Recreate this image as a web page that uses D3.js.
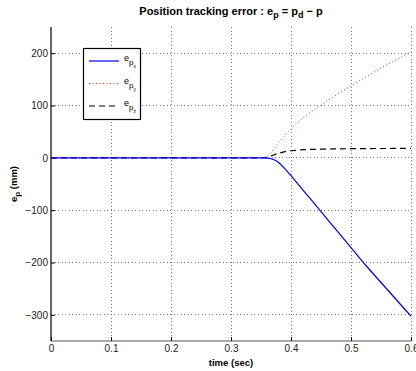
<!DOCTYPE html>
<html><head><meta charset="utf-8">
<script src="https://cdn.jsdelivr.net/npm/d3@7"></script>
<style>body{margin:0;background:#fff}svg{display:block}text{font-family:"Liberation Sans",Arial,Helvetica,sans-serif}</style>
</head><body>
<svg id="c" width="416" height="371"></svg>
<script>
const time = [0, 0.1, 0.2, 0.3, 0.35, 0.355, 0.36, 0.365, 0.37, 0.375, 0.38, 0.39, 0.40, 0.41, 0.42, 0.43, 0.44, 0.45, 0.46, 0.47, 0.48, 0.49, 0.50, 0.51, 0.52, 0.53, 0.54, 0.55, 0.56, 0.57, 0.58, 0.59, 0.60];
const epx = [0, 0, 0, 0, 0, -0.1, -0.5, -1.3, -2.8, -5.5, -9.5, -21, -34, -47.7, -61.5, -75.2, -89, -102.8, -116.5, -130.3, -144, -157.8, -171.6, -185.4, -199.2, -212.4, -225.3, -238.2, -251.1, -264, -276.9, -289.8, -302.6];
const epy = [0, 0, 0, 0, 0, 0.5, 3, 8, 15, 22, 30, 43, 55, 66, 76, 85, 93, 101, 109, 116, 123.5, 130.5, 137.5, 144.5, 151.5, 158, 165, 171.5, 178, 184, 190.5, 197, 203];
const epz = [0, 0, 0, 0, 0, 0.2, 1, 3, 5, 7, 9, 12, 13.5, 14.5, 15.5, 16, 16.3, 16.5, 16.8, 17, 17.2, 17.4, 17.5, 17.6, 17.7, 17.75, 17.8, 17.8, 17.85, 17.9, 17.9, 18, 18];
const xTicks = [0, 0.1, 0.2, 0.3, 0.4, 0.5, 0.6];
const yTicks = [-300, -200, -100, 0, 100, 200];
const seriesNames = ["x", "y", "z"];

const svg = d3.select("#c");
const L = 51, R = 411, T = 27, B = 341;
const x = d3.scaleLinear().domain([0, 0.6]).range([L, R]);
const y = d3.scaleLinear().domain([-350, 250]).range([B, T]);

// grid
const g = svg.append("g");
g.selectAll(".vg").data(xTicks.slice(1)).enter().append("line")
  .attr("x1", d => x(d)).attr("x2", d => x(d)).attr("y1", T).attr("y2", B)
  .attr("stroke", "#777").attr("stroke-width", 1).attr("stroke-dasharray", "1,2.5").attr("shape-rendering", "crispEdges");
g.selectAll(".hg").data(yTicks).enter().append("line")
  .attr("x1", L).attr("x2", R).attr("y1", d => y(d)).attr("y2", d => y(d))
  .attr("stroke", "#777").attr("stroke-width", 1).attr("stroke-dasharray", "1,2.5").attr("shape-rendering", "crispEdges");

// axes
const fmtMinus = s => s.replace("-", "\u2212");
const xa = svg.append("g").attr("transform", `translate(0,${B})`)
  .call(d3.axisBottom(x).tickValues(xTicks).tickSize(-4).tickPadding(4).tickFormat(d => d === 0 ? "0" : d3.format(".1f")(d)));
const ya = svg.append("g").attr("transform", `translate(${L},0)`)
  .call(d3.axisLeft(y).tickValues(yTicks).tickSize(-4).tickPadding(3).tickFormat(d => fmtMinus(String(d))));
[xa, ya].forEach(a => {
  a.select(".domain").attr("stroke", "#000").attr("stroke-width", 1.2);
  a.selectAll(".tick line").attr("stroke", "#000");
  a.selectAll("text").attr("font-size", 10).attr("fill", "#222").attr("font-family", "'Liberation Sans',Arial,sans-serif");
});
xa.select(".domain").attr("stroke", "#555");
xa.select(".domain").attr("d", `M${L},0H${R}`);
ya.select(".domain").attr("d", `M0,${B}V${T}`);

// lines
const line = vals => d3.line().x((d, i) => x(time[i])).y(d => y(d))(vals);
svg.append("path").attr("d", line(epz)).attr("fill", "none").attr("stroke", "#000").attr("stroke-width", 1.2).attr("stroke-dasharray", "6,4");
svg.append("path").attr("d", line(epy)).attr("fill", "none").attr("stroke", "#ff2020").attr("stroke-width", 1).attr("stroke-dasharray", "1,2.5");
svg.append("path").attr("d", line(epx)).attr("fill", "none").attr("stroke", "#0000ff").attr("stroke-width", 1.2);

// title
const title = svg.append("text").attr("x", (L + R) / 2).attr("y", 15).attr("text-anchor", "middle")
  .attr("font-size", 11).attr("font-weight", "bold");
title.append("tspan").text("Position tracking error : e");
title.append("tspan").attr("dy", 3).attr("font-size", 9).text("p");
title.append("tspan").attr("dy", -3).text(" = p");
title.append("tspan").attr("dy", 3).attr("font-size", 9).text("d");
title.append("tspan").attr("dy", -3).text(" \u2212 p");

// x label
svg.append("text").attr("x", (L + R) / 2).attr("y", 366).attr("text-anchor", "middle")
  .attr("font-size", 9.5).attr("font-weight", "bold").text("time (sec)");

// y label
const yl = svg.append("text").attr("transform", `translate(17,${(T + B) / 2}) rotate(-90)`).attr("text-anchor", "middle")
  .attr("font-size", 9.5).attr("font-weight", "bold");
yl.append("tspan").text("e");
yl.append("tspan").attr("dy", 3).attr("font-size", 8).text("p");
yl.append("tspan").attr("dy", -3).text(" (mm)");

// legend
const lg = svg.append("g");
lg.append("rect").attr("x", 83.5).attr("y", 48.5).attr("width", 57).attr("height", 71)
  .attr("fill", "#fff").attr("stroke", "#000").attr("stroke-width", 1.2);
const lstyles = [
  {stroke: "#0000ff", dash: null, w: 1.2},
  {stroke: "#ff2020", dash: "1,2.5", w: 1},
  {stroke: "#000", dash: "6,4", w: 1.2}
];
seriesNames.forEach((n, i) => {
  const yy = 61 + i * 22.5;
  lg.append("line").attr("x1", 89).attr("x2", 119).attr("y1", yy).attr("y2", yy)
    .attr("stroke", lstyles[i].stroke).attr("stroke-width", lstyles[i].w).attr("stroke-dasharray", lstyles[i].dash);
  const t = lg.append("text").attr("x", 124).attr("y", yy).attr("font-size", 9);
  t.append("tspan").text("e");
  t.append("tspan").attr("dy", 4).attr("font-size", 8).text("p");
  t.append("tspan").attr("dy", 3).attr("font-size", 5).text(n);
});
</script>
</body></html>
